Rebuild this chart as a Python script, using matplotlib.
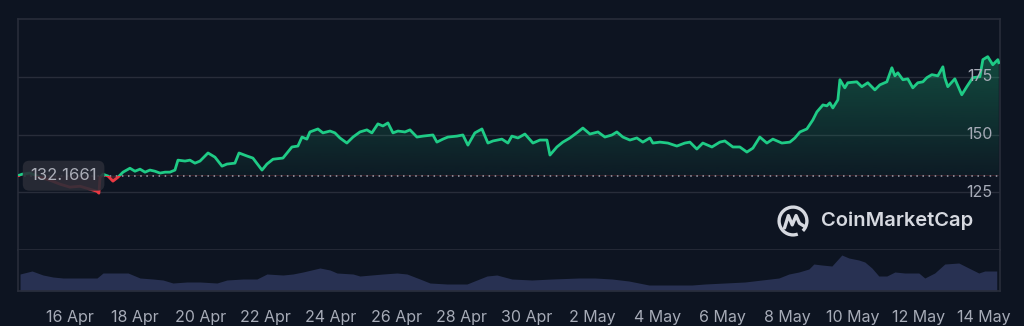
import numpy as np
import pandas as pd
import matplotlib
matplotlib.use("Agg")
import matplotlib.pyplot as plt
import matplotlib.dates as mdates
from matplotlib.patches import Rectangle, Arc
from matplotlib.ticker import FuncFormatter

# ---- data ----
start = pd.Timestamp("2025-04-14 10:00")
base_price = 132.1661

price_hours = [0, 2.9, 8.8, 16.2, 23.5, 30.9, 38.2, 45.6, 52.9, 58.1, 59.5, 60.3, 62.5, 66.2,
               69.8, 73.5, 77.2, 82.3, 86.0, 89.7, 93.4, 97.0, 100.7, 104.4, 108.1, 111.7,
               115.4, 117.6, 122.8, 126.4, 130.1, 133.8, 139.7, 144.8, 150.0, 153.6, 159.5,
               162.5, 168.3, 172.7, 179.4, 183.0, 187.5, 194.8, 201.4, 205.8, 208.8, 212.4,
               214.6, 220.5, 224.2, 229.4, 233.0, 236.7, 241.8, 246.3, 251.4, 256.5, 260.2,
               264.6, 268.3, 272.0, 275.7, 279.3, 284.5, 288.2, 293.3, 297.7, 305.1, 308.0,
               312.4, 316.1, 322.7, 327.1, 330.8, 335.9, 341.1, 345.5, 349.2, 355.8, 360.2,
               363.1, 367.6, 372.7, 378.6, 383.7, 388.9, 391.1, 396.2, 400.6, 405.8, 411.7,
               415.3, 420.5, 426.4, 431.5, 436.7, 440.3, 444.7, 449.9, 455.0, 459.4, 464.6,
               466.8, 471.9, 477.8, 484.4, 490.3, 494.0, 499.1, 503.5, 510.2, 516.0, 519.7,
               525.6, 530.7, 535.9, 540.3, 545.4, 550.6, 555.0, 561.6, 567.5, 571.2, 574.9,
               580.0, 584.4, 587.4, 591.8, 594.7, 596.9, 599.1, 602.8, 604.3, 607.9, 610.1,
               616.7, 620.4, 624.8, 630.0, 633.7, 638.8, 642.5, 644.7, 646.9, 650.6, 654.2,
               657.9, 661.6, 665.3, 668.2, 671.9, 676.3, 680.0, 681.4, 683.6, 688.8, 693.9,
               697.6, 702.0, 707.2, 709.4, 713.0, 716.7, 720.4, 721.1]
price_values = [132.17, 132.8, 133.3, 131.5, 130.2, 128.5, 127.2, 127.6, 126.3, 125.4, 124.6,
                131.5, 132.8, 132.0, 129.8, 131.5, 133.7, 135.4, 134.1, 135.0, 133.7, 134.6,
                134.1, 133.3, 133.7, 133.7, 134.6, 138.9, 138.5, 138.9, 137.6, 138.5, 142.0,
                140.2, 136.3, 137.2, 137.6, 142.0, 140.7, 139.8, 134.6, 137.2, 139.3, 139.8,
                144.6, 145.0, 148.9, 148.0, 151.1, 152.4, 150.7, 151.5, 150.7, 148.5, 146.3,
                148.9, 151.1, 152.0, 150.7, 154.6, 153.7, 155.0, 150.7, 151.5, 151.1, 152.0,
                148.9, 149.3, 149.8, 146.7, 148.0, 148.9, 149.3, 149.8, 145.4, 150.7, 152.4,
                146.3, 147.2, 148.0, 146.3, 149.3, 148.5, 150.2, 146.3, 147.6, 147.6, 141.1,
                144.6, 146.7, 148.5, 151.1, 152.8, 150.2, 151.1, 148.9, 149.8, 151.1, 148.9,
                147.6, 148.5, 146.7, 148.5, 146.3, 146.7, 146.3, 145.0, 146.3, 146.7, 143.7,
                146.3, 144.6, 146.7, 147.2, 144.6, 144.6, 142.4, 144.1, 148.9, 146.3, 148.0,
                146.3, 146.7, 148.5, 151.1, 152.4, 156.3, 159.8, 162.8, 162.4, 163.7, 161.5,
                165.0, 173.7, 170.2, 172.4, 172.8, 170.7, 172.4, 169.3, 171.5, 172.8, 178.9,
                175.4, 176.7, 173.7, 174.1, 170.2, 172.4, 172.8, 174.6, 175.9, 175.4, 179.3,
                174.6, 170.7, 174.1, 167.2, 170.7, 174.6, 175.0, 182.4, 183.7, 180.2, 182.4,
                181.1]

volume_hours = [1.5, 10.3, 18.4, 25.7, 33.1, 58.1, 62.5, 69.8, 80.9, 89.7, 99.2, 106.6, 113.9,
                124.2, 133.8, 146.3, 153.6, 165.4, 175.7, 183.0, 194.8, 202.1, 209.5, 222.0,
                229.4, 234.5, 246.3, 251.4, 268.3, 278.6, 286.0, 295.5, 302.9, 315.4, 330.1,
                337.4, 344.8, 352.1, 363.1, 377.8, 392.5, 412.4, 424.1, 436.7, 449.1, 463.9,
                478.6, 495.5, 505.0, 519.7, 534.4, 546.9, 559.4, 566.8, 574.1, 581.5, 585.1,
                591.0, 598.4, 605.7, 610.9, 618.2, 622.6, 627.8, 632.9, 638.8, 644.7, 652.0,
                662.3, 666.7, 674.0, 681.4, 691.7, 699.0, 706.4, 710.8, 719.6]
volume_values = [85, 100, 80, 70, 65, 65, 90, 90, 90, 65, 60, 55, 40, 45, 45, 40, 55, 60, 60,
                 85, 80, 85, 95, 115, 105, 90, 85, 75, 85, 90, 85, 60, 40, 35, 35, 55, 75, 80,
                 60, 55, 60, 65, 65, 60, 50, 30, 30, 30, 35, 40, 45, 55, 65, 85, 95, 110, 135,
                 130, 125, 180, 165, 155, 145, 115, 75, 75, 95, 90, 90, 65, 90, 135, 140, 115,
                 90, 100, 100]

price_ticks = [125, 150, 175]

# ---- style ----
bg = "#0d1421"
grid_c = "#282d3a"
text_c = "#a6abb7"
green = "#1fcb86"
red = "#ea3943"
vol_c = "#283152"
plt.rcParams["font.family"] = ["Inter", "DejaVu Sans"]

t = start + pd.to_timedelta(np.array(price_hours), unit="h")
p = np.array(price_values)
tv = start + pd.to_timedelta(np.array(volume_hours), unit="h")
v = np.array(volume_values)
x0 = mdates.date2num(start)
x1 = mdates.date2num(start + pd.Timedelta(hours=722))
tn = mdates.date2num(t)

fig = plt.figure(figsize=(10.24, 3.26), dpi=100, facecolor=bg)
W, H = 1024, 326
ax = fig.add_axes([18 / W, 1 - 250 / H, 982 / W, 231 / H], facecolor=bg)
axv = fig.add_axes([18 / W, 1 - 291 / H, 982 / W, 41 / H], facecolor=bg, sharex=ax)

ax.set_xlim(x0, x1)
ax.set_ylim(100, 200)

for y in price_ticks:
    ax.axhline(y, color=grid_c, lw=1, zorder=0)
for s in ["top", "left", "right", "bottom"]:
    ax.spines[s].set_color(grid_c)
    ax.spines[s].set_linewidth(1.2)
ax.tick_params(left=False, bottom=False, labelleft=False, labelbottom=False)

# gradient fills
poly = ax.fill_between(tn, p, base_price, facecolor="none", edgecolor="none")
clip = poly.get_paths()[0]
grad = np.linspace(0, 1, 256).reshape(-1, 1)
g_img = np.zeros((256, 1, 4))
g_img[..., :3] = matplotlib.colors.to_rgb(green)
g_img[..., 3] = 0.04 + 0.34 * grad
im = ax.imshow(g_img, extent=[x0, x1, base_price, 200], origin="lower",
               aspect="auto", zorder=1, interpolation="bilinear")
im.set_clip_path(clip, transform=ax.transData)
r_img = np.zeros((256, 1, 4))
r_img[..., :3] = matplotlib.colors.to_rgb(red)
r_img[..., 3] = 0.25 * grad
im2 = ax.imshow(r_img, extent=[x0, x1, 100, base_price], origin="lower",
                aspect="auto", zorder=1, interpolation="bilinear")
im2.set_clip_path(clip, transform=ax.transData)

# price line coloured above / below the opening price
lg, = ax.plot(tn, p, color=green, lw=2.0, zorder=3, solid_joinstyle="round")
lr, = ax.plot(tn, p, color=red, lw=2.0, zorder=3, solid_joinstyle="round")
lg.set_clip_path(Rectangle((x0, base_price), x1 - x0, 200 - base_price, transform=ax.transData))
lr.set_clip_path(Rectangle((x0, 100), x1 - x0, base_price - 100, transform=ax.transData))

ax.axhline(base_price, color="#9ea3ae", lw=1.1, ls=(0, (1, 3)), zorder=2)

# opening price label
ax.text(0.0125, base_price, f"{base_price:.4f}", transform=ax.get_yaxis_transform(),
        ha="left", va="center", color="#abaeb8", fontsize=12, zorder=6,
        bbox=dict(boxstyle="round,pad=0.45,rounding_size=0.4", fc="#2a2d37", ec="none", alpha=0.88))

# right side price labels
for y in price_ticks:
    ax.text(0.992, y, str(y), transform=ax.get_yaxis_transform(), ha="right",
            va="center", color=text_c, fontsize=11.5, zorder=4)

# volume
axv.fill_between(mdates.date2num(tv), v, 0, color=vol_c, lw=0)
axv.set_ylim(0, 205)
for s in ["left", "right", "bottom"]:
    axv.spines[s].set_color(grid_c)
    axv.spines[s].set_linewidth(1.2)
axv.spines["top"].set_visible(False)
axv.tick_params(left=False, labelleft=False, length=0, pad=14, labelsize=11.5,
                labelcolor=text_c)
ticks = [mdates.date2num(pd.Timestamp("2025-04-16") + pd.Timedelta(days=2 * i)) for i in range(15)]
axv.set_xticks(ticks)
axv.xaxis.set_major_formatter(FuncFormatter(
    lambda x, pos: f"{mdates.num2date(x).day} {mdates.num2date(x).strftime('%b')}"))

# CoinMarketCap watermark
fig.text(821 / W, 1 - 221 / H, "CoinMarketCap", color="#d6d9e0", fontsize=14.5,
         fontweight="semibold", ha="left", va="center")
lax = fig.add_axes([776 / W, 1 - 238 / H, 34 / W, 34 / H])
lax.set_xlim(-1.1, 1.1)
lax.set_ylim(-1.1, 1.1)
lax.axis("off")
lax.add_patch(Arc((0, 0), 1.8, 1.8, theta1=-45, theta2=290, color="#d6d9e0", lw=2.4))
lax.plot([-0.55, -0.3, -0.05, 0.2, 0.42, 0.75], [-0.45, 0.35, -0.25, 0.35, -0.15, -0.35],
         color="#d6d9e0", lw=2.4, solid_capstyle="round", solid_joinstyle="round")

fig.savefig("out.png", dpi=100, facecolor=bg)
